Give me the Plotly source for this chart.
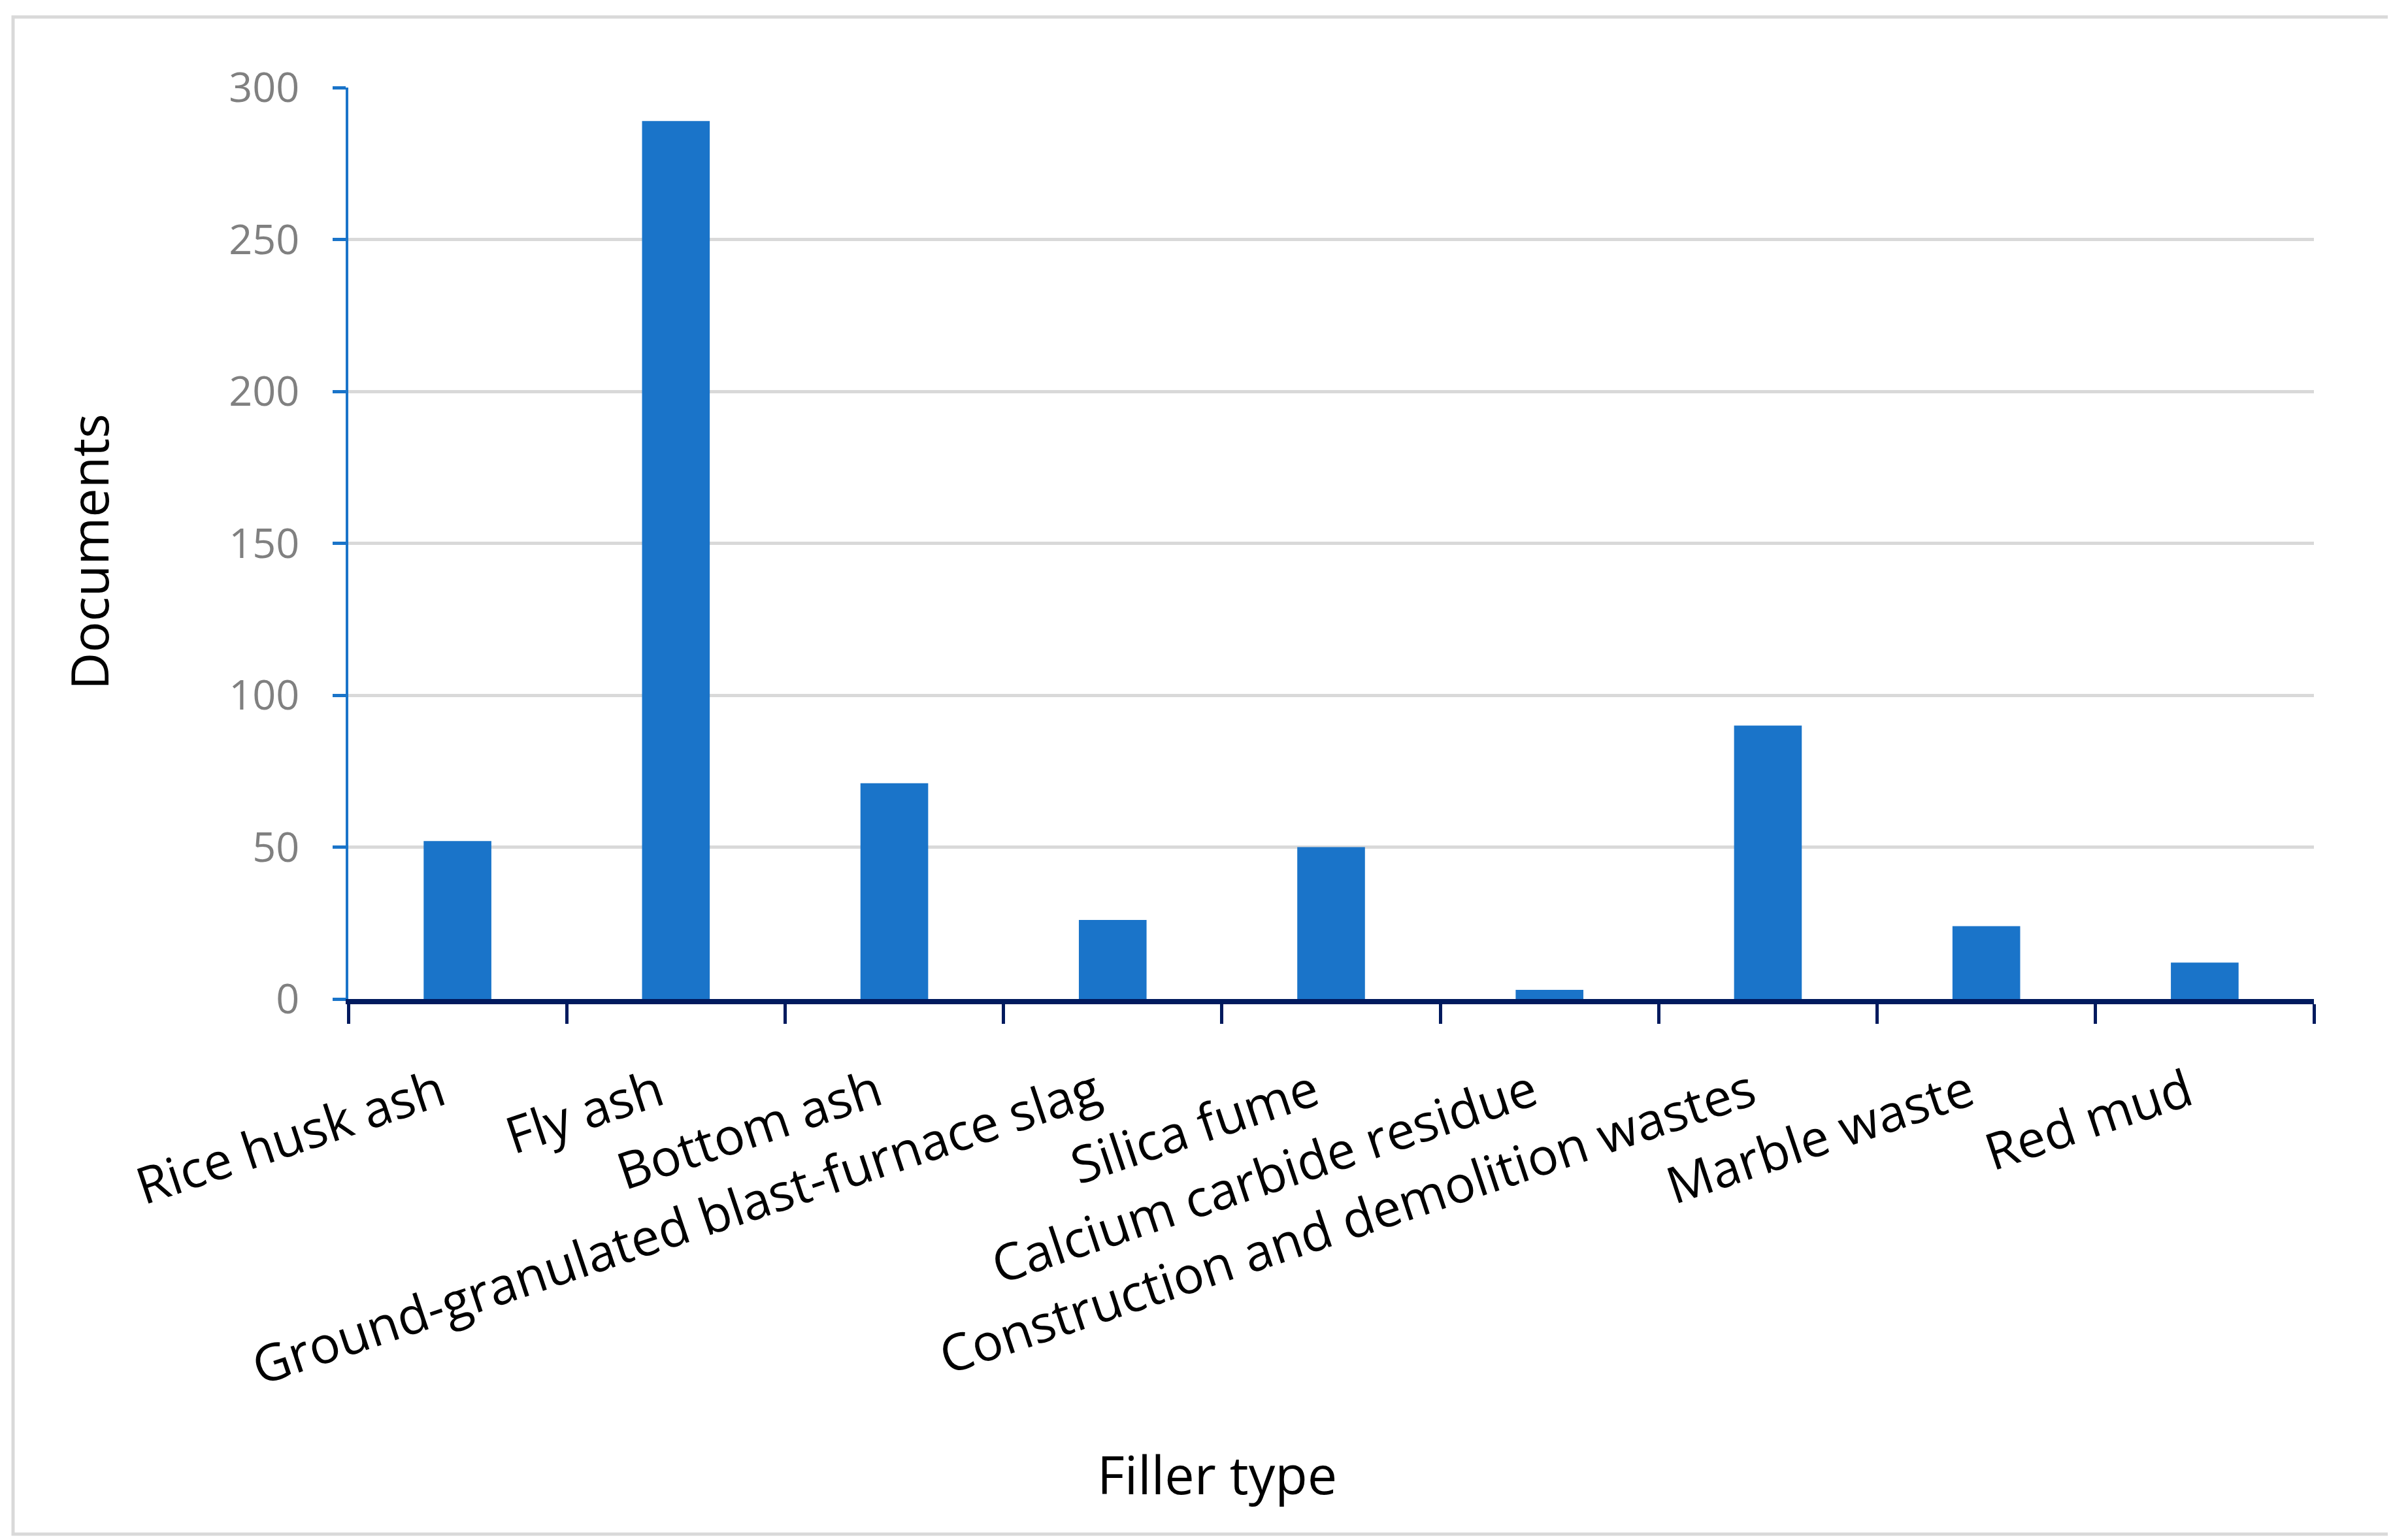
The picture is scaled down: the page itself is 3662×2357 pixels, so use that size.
import plotly.graph_objects as go

categories = ["Rice husk ash", "Fly ash", "Bottom ash", "Ground-granulated blast-furnace slag",
              "Silica fume", "Calcium carbide residue", "Construction and demolition wastes",
              "Marble waste", "Red mud"]
documents = [52, 289, 71, 26, 50, 3, 90, 24, 12]
y_ticks = [0, 50, 100, 150, 200, 250, 300]

W, H = 3662, 2357
L, R, T, B = 525, 3533, 126, 1521

def px_x(x):
    return (x - L) / (R - L)

def px_y(y):
    return (B - y) / (B - T)

FONT = "Open Sans"

fig = go.Figure()
fig.add_trace(go.Bar(x=categories, y=documents, marker=dict(color="#1A74C9", line=dict(width=0)),
                     width=0.31))

fig.update_layout(
    width=W, height=H,
    margin=dict(l=L, r=W - R, t=T, b=H - B),
    paper_bgcolor="white", plot_bgcolor="white",
    showlegend=False,
    font=dict(family=FONT, color="black"),
    bargap=0.69,
)
fig.update_xaxes(
    type="category",
    showline=True, linecolor="#001A5E", linewidth=8,
    ticks="outside", tickson="boundaries", ticklen=30, tickwidth=5, tickcolor="#001A5E",
    tickangle=-18.5, ticklabelstandoff=60, ticklabelshift=-26,
    tickfont=dict(family=FONT, size=78, color="black"),
    showgrid=False, zeroline=False,
)
fig.update_yaxes(
    range=[0, 300], tickvals=y_ticks,
    showline=True, linecolor="#1A74C9", linewidth=4,
    ticks="outside", ticklen=20, tickwidth=5, tickcolor="#1A74C9",
    ticklabelstandoff=38,
    tickfont=dict(family=FONT, size=63, color="#808080"),
    showgrid=True, gridcolor="#D9D9D9", gridwidth=5,
    zeroline=False,
)

fig.add_shape(type="rect", xref="paper", yref="paper",
              x0=px_x(12), x1=px_x(3650), y0=px_y(2340), y1=px_y(18),
              line=dict(color="#D9D9D9", width=5), fillcolor="rgba(0,0,0,0)", layer="below")

fig.add_annotation(text="Filler type", xref="paper", yref="paper",
                   x=px_x(1854), y=px_y(2247), xanchor="center", yanchor="middle",
                   showarrow=False, font=dict(family=FONT, size=81, color="black"))
fig.add_annotation(text="Documents", xref="paper", yref="paper",
                   x=px_x(128), y=px_y(836), xanchor="center", yanchor="middle",
                   textangle=-90, showarrow=False, font=dict(family=FONT, size=79, color="black"))

fig.write_html("out.html")
